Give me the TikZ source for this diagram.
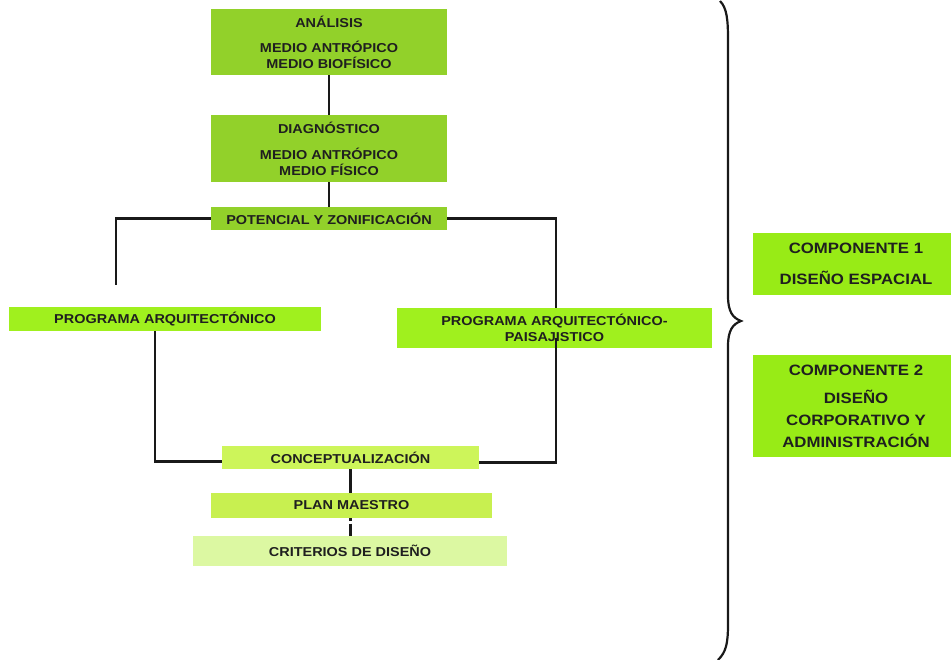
\documentclass[tikz,border=0pt]{standalone}
\usepackage{fontspec}
\setmainfont{Liberation Sans}[FakeStretch=1.12]
\begin{document}
\begin{tikzpicture}[x=1pt,y=-1pt,
  box/.style={inner sep=0pt,align=center,text=black!88,
    font=\fontsize{12.9}{16}\selectfont\bfseries},
  bigbox/.style={inner sep=0pt,align=center,text=black!88,
    font=\fontsize{15}{22}\selectfont\bfseries,fill=compgreen},
  link/.style={line width=2.6pt,black!90}]
\definecolor{stepgreen}{HTML}{92D12A}
\definecolor{proggreen}{HTML}{A0F01E}
\definecolor{concgreen}{HTML}{CDF55A}
\definecolor{plangreen}{HTML}{C8F050}
\definecolor{critgreen}{HTML}{DCF8A2}
\definecolor{compgreen}{HTML}{98EB16}
\useasboundingbox[fill=white] (0,0) rectangle (951,660);

% main sequence
\node[box,fill=stepgreen,minimum width=236pt,minimum height=66pt] (ana) at (329,42)
  {ANÁLISIS\\[9pt]MEDIO ANTRÓPICO\\MEDIO BIOFÍSICO};
\node[box,fill=stepgreen,minimum width=236pt,minimum height=67pt] (diag) at (329,148.5)
  {DIAGNÓSTICO\\[10pt]MEDIO ANTRÓPICO\\MEDIO FÍSICO};
\node[box,fill=stepgreen,minimum width=236pt,minimum height=23pt] (pot) at (329,218.5)
  {POTENCIAL Y ZONIFICACIÓN};
\node[box,fill=proggreen,minimum width=312pt,minimum height=24pt] (prog1) at (165,319)
  {PROGRAMA ARQUITECTÓNICO};
\node[box,fill=proggreen,minimum width=315pt,minimum height=40pt] (prog2) at (554.5,328)
  {PROGRAMA ARQUITECTÓNICO-\\PAISAJISTICO};
\node[box,fill=concgreen,minimum width=257pt,minimum height=23pt] (concep) at (350.5,457.5)
  {CONCEPTUALIZACIÓN};
\node[box,fill=plangreen,minimum width=281pt,minimum height=25pt] (plan) at (351.5,505.5)
  {PLAN MAESTRO};
\node[box,fill=critgreen,minimum width=314pt,minimum height=30pt] (crit) at (350,551)
  {CRITERIOS DE DISEÑO};

% components
\node[bigbox,minimum width=206pt,minimum height=62pt] (comp1) at (856,264)
  {COMPONENTE 1\\[9pt]DISEÑO ESPACIAL};
\node[bigbox,minimum width=206pt,minimum height=102pt] (comp2) at (856,406)
  {COMPONENTE 2\\[6pt]DISEÑO\\CORPORATIVO Y\\ADMINISTRACIÓN};

% connectors
\coordinate (lend) at (116,285);
\draw[link] (ana.south) -- (diag.north);
\draw[link] (diag.south) -- (pot.north);
\draw[link] (pot.west) -| (lend);
\draw[link] (pot.east) -| ([xshift=1.5pt]prog2.north);
\draw[link] ([xshift=-10pt]prog1.south) |- ([yshift=-4pt]concep.west);
\draw[link] ([xshift=1.5pt,yshift=10pt]prog2.south) |- ([yshift=-5pt]concep.east);
\draw[link] (concep.south) -- (concep.south |- plan.north);
\draw[link,line width=2.2pt,dash pattern=on 3pt off 2.5pt on 30pt]
  (concep.south |- plan.south) -- (concep.south |- crit.north);

% brace
\coordinate (bt) at (720,1);
\coordinate (tip) at (741,321);
\coordinate (bb) at (718,660);
\draw[line width=2.2pt,black!90]
  (bt) .. controls (727,8) and (728,20) .. (728,40) -- (728,296)
  .. controls (728,312) and (733,318) .. (tip)
  .. controls (733,324) and (728,330) .. (728,346) -- (728,624)
  .. controls (728,644) and (726,652) .. (bb);
\end{tikzpicture}
\end{document}
